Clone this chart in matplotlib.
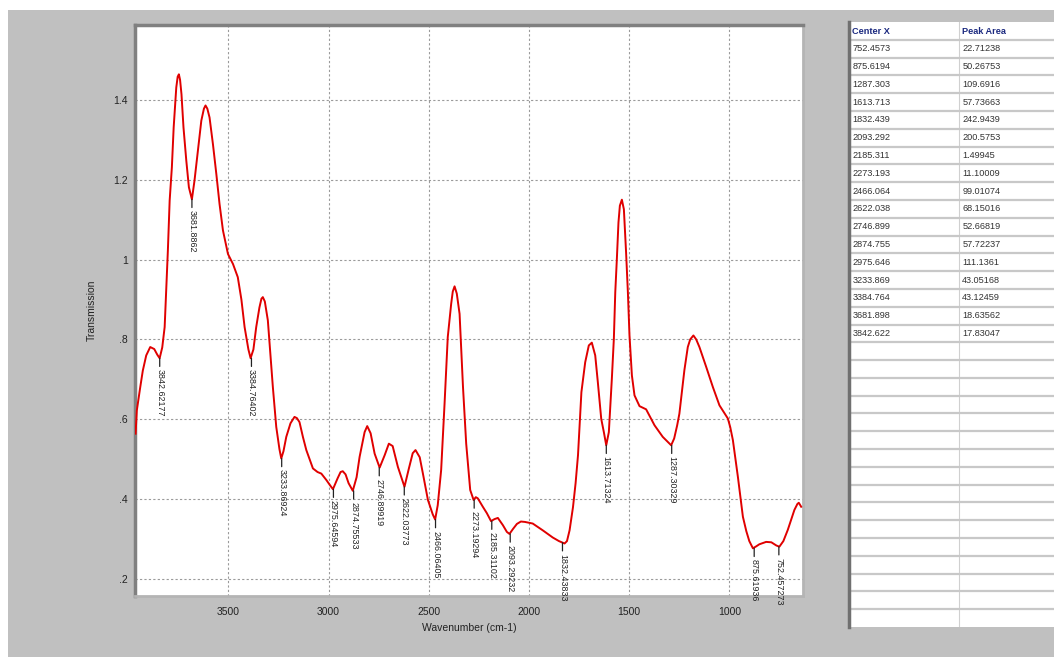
import matplotlib

matplotlib.use("Agg")
import matplotlib.pyplot as plt
from matplotlib.patches import Rectangle

plt.rcParams["font.family"] = ["Liberation Sans", "DejaVu Sans"]

# spectrum (wavenumber cm-1, transmission)
wavenumber = [
    3963, 3957, 3940, 3927, 3910, 3890, 3870, 3855, 3843, 3830, 3818, 3802,
    3793, 3782, 3773, 3760, 3753, 3747, 3741, 3734, 3724, 3710, 3697, 3682,
    3669, 3652, 3635, 3622, 3614, 3605, 3594, 3577, 3560, 3544, 3527, 3502,
    3477, 3453, 3435, 3419, 3400, 3389, 3375, 3361, 3345, 3335, 3328, 3318,
    3303, 3290, 3278, 3261, 3245, 3236, 3225, 3211, 3190, 3170, 3158, 3145,
    3128, 3111, 3078, 3055, 3036, 3011, 2990, 2978, 2955, 2940, 2929, 2915,
    2900, 2879, 2860, 2845, 2820, 2807, 2790, 2770, 2745, 2720, 2699, 2680,
    2654, 2621, 2600, 2580, 2566, 2545, 2529, 2504, 2480, 2468, 2455, 2438,
    2421, 2405, 2388, 2380, 2371, 2360, 2346, 2329, 2313, 2293, 2276, 2265,
    2255, 2230, 2210, 2189, 2172, 2155, 2130, 2110, 2097, 2080, 2060, 2040,
    2020, 1981, 1931, 1881, 1850, 1822, 1810, 1797, 1780, 1767, 1755, 1738,
    1719, 1701, 1686, 1669, 1656, 1639, 1626, 1614, 1601, 1586, 1576, 1569,
    1561, 1553, 1546, 1536, 1526, 1515, 1506, 1498, 1486, 1473, 1448, 1415,
    1373, 1332, 1310, 1290, 1275, 1260, 1249, 1236, 1224, 1207, 1195, 1179,
    1165, 1149, 1115, 1082, 1049, 1020, 1007, 995, 982, 957, 932, 915, 900,
    882, 865, 850, 816, 790, 765, 750, 730, 708, 690, 675, 660, 653, 641,
]
transmission = [
    0.564, 0.622, 0.680, 0.722, 0.760, 0.781, 0.776, 0.762, 0.753, 0.780,
    0.831, 1.022, 1.148, 1.231, 1.331, 1.431, 1.458, 1.464, 1.450, 1.414,
    1.331, 1.248, 1.181, 1.151, 1.198, 1.273, 1.348, 1.378, 1.386, 1.378,
    1.356, 1.289, 1.214, 1.139, 1.073, 1.014, 0.989, 0.956, 0.900, 0.831,
    0.775, 0.753, 0.775, 0.831, 0.880, 0.902, 0.906, 0.895, 0.848, 0.760,
    0.681, 0.581, 0.525, 0.502, 0.520, 0.556, 0.590, 0.606, 0.603, 0.593,
    0.556, 0.523, 0.477, 0.468, 0.464, 0.448, 0.433, 0.425, 0.452, 0.468,
    0.470, 0.462, 0.440, 0.421, 0.455, 0.506, 0.568, 0.583, 0.565, 0.514,
    0.479, 0.510, 0.539, 0.533, 0.481, 0.431, 0.475, 0.515, 0.523, 0.505,
    0.464, 0.398, 0.362, 0.349, 0.385, 0.473, 0.639, 0.806, 0.889, 0.920,
    0.933, 0.915, 0.864, 0.681, 0.539, 0.423, 0.398, 0.405, 0.402, 0.381,
    0.365, 0.345, 0.350, 0.353, 0.335, 0.318, 0.313, 0.325, 0.338, 0.344,
    0.343, 0.339, 0.322, 0.304, 0.295, 0.289, 0.295, 0.322, 0.380, 0.440,
    0.510, 0.668, 0.743, 0.785, 0.792, 0.760, 0.693, 0.601, 0.568, 0.535,
    0.568, 0.702, 0.802, 0.918, 1.002, 1.093, 1.135, 1.150, 1.126, 1.018,
    0.918, 0.810, 0.710, 0.660, 0.633, 0.625, 0.585, 0.556, 0.545, 0.535,
    0.552, 0.585, 0.614, 0.670, 0.723, 0.781, 0.800, 0.810, 0.800, 0.781,
    0.731, 0.681, 0.635, 0.612, 0.602, 0.580, 0.548, 0.456, 0.356, 0.320,
    0.295, 0.277, 0.282, 0.287, 0.293, 0.292, 0.284, 0.281, 0.295, 0.323,
    0.350, 0.373, 0.388, 0.391, 0.381,
]

# peak markers drawn on the curve
peak_labels = [
    "3842.62177", "3681.8862", "3384.76402", "3233.86924", "2975.64594",
    "2874.75533", "2746.89919", "2622.03773", "2466.06405", "2273.19294",
    "2185.31102", "2093.29232", "1832.43833", "1613.71324", "1287.30329",
    "875.61936", "752.457273",
]
peak_x = [3842.62, 3681.89, 3384.76, 3233.87, 2975.65, 2874.76, 2746.90,
          2622.04, 2466.06, 2273.19, 2185.31, 2093.29, 1832.44, 1613.71,
          1287.30, 875.62, 752.46]
peak_y = [0.753, 1.151, 0.753, 0.502, 0.425, 0.421, 0.479, 0.431, 0.349,
          0.398, 0.345, 0.313, 0.291, 0.535, 0.535, 0.277, 0.281]

# side table
table_header = ["Center X", "Peak Area"]
center_x = ["752.4573", "875.6194", "1287.303", "1613.713", "1832.439",
            "2093.292", "2185.311", "2273.193", "2466.064", "2622.038",
            "2746.899", "2874.755", "2975.646", "3233.869", "3384.764",
            "3681.898", "3842.622"]
peak_area = ["22.71238", "50.26753", "109.6916", "57.73663", "242.9439",
             "200.5753", "1.49945", "11.10009", "99.01074", "68.15016",
             "52.66819", "57.72237", "111.1361", "43.05168", "43.12459",
             "18.63562", "17.83047"]
table_rows = 33

x_ticks = [3500, 3000, 2500, 2000, 1500, 1000]
y_ticks = [0.2, 0.4, 0.6, 0.8, 1.0, 1.2, 1.4]
y_tick_labels = [".2", ".4", ".6", ".8", "1", "1.2", "1.4"]

W, H = 1054, 657
fig = plt.figure(figsize=(W / 100, H / 100), dpi=100, facecolor="white")
fig.patches.append(Rectangle((8 / W, 0), 1, 1 - 10 / H, transform=fig.transFigure,
                             facecolor="#c0c0c0", edgecolor="none", zorder=-10))


def px_axes(x0, y0, x1, y1):
    return fig.add_axes([x0 / W, 1 - y1 / H, (x1 - x0) / W, (y1 - y0) / H])


ax = px_axes(135, 25, 803, 596)
ax.set_facecolor("white")
ax.plot(wavenumber, transmission, color="#e00000", lw=1.4, zorder=3,
        solid_joinstyle="round")
ax.set_xlim(3966, 632)
ax.set_ylim(0.1575, 1.5875)
ax.set_xticks(x_ticks)
ax.set_yticks(y_ticks)
ax.set_yticklabels(y_tick_labels)
ax.tick_params(length=0, labelsize=7.5, colors="#222222")
ax.tick_params(axis="x", pad=8)
ax.tick_params(axis="y", pad=5)
ax.grid(True, color="#9a9a9a", lw=0.8, linestyle=(0, (2, 2)))
for side in ("left", "top"):
    ax.spines[side].set_color("#808080")
    ax.spines[side].set_linewidth(2.5)
for side in ("right", "bottom"):
    ax.spines[side].set_color("#b4b4b4")
    ax.spines[side].set_linewidth(2)
ax.set_xlabel("Wavenumber (cm-1)", fontsize=7.5, color="#222222")
ax.set_ylabel("Transmission", fontsize=7.5, color="#222222")
ax.xaxis.set_label_coords(0.5, -0.047)
ax.yaxis.set_label_coords(-0.057, 0.5)

for lab, xp, yp in zip(peak_labels, peak_x, peak_y):
    ax.annotate(lab, xy=(xp, yp), xytext=(0, -11), textcoords="offset pixels",
                rotation=270, ha="center", va="top", fontsize=6.4, color="#222222",
                arrowprops=dict(arrowstyle="-", color="#222222", lw=0.9,
                                shrinkA=0, shrinkB=0), zorder=4)

# table panel
tb = px_axes(849, 22, 1069, 627)
tb.set_xlim(0, 2)
tb.set_ylim(table_rows + 1, 0)
tb.set_facecolor("white")
tb.set_xticks([])
tb.set_yticks([])
for side in ("right", "bottom", "top"):
    tb.spines[side].set_visible(False)
tb.spines["left"].set_color("#707070")
tb.spines["left"].set_linewidth(2.5)
tb.axvline(1, color="#d0d0d0", lw=0.8)
for r in range(1, table_rows + 1):
    tb.axhline(r, color="#c8c8c8", lw=1.6)
for c, name in enumerate(table_header):
    tb.text(c + 0.03, 0.55, name, ha="left", va="center", fontsize=6.6,
            fontweight="bold", color="#1c2a80")
for r, (cx, pa) in enumerate(zip(center_x, peak_area), start=1):
    tb.text(0.03, r + 0.5, cx, ha="left", va="center", fontsize=6.6, color="#333333")
    tb.text(1.03, r + 0.5, pa, ha="left", va="center", fontsize=6.6, color="#333333")

fig.savefig("out.png", dpi=100, facecolor=fig.get_facecolor())
